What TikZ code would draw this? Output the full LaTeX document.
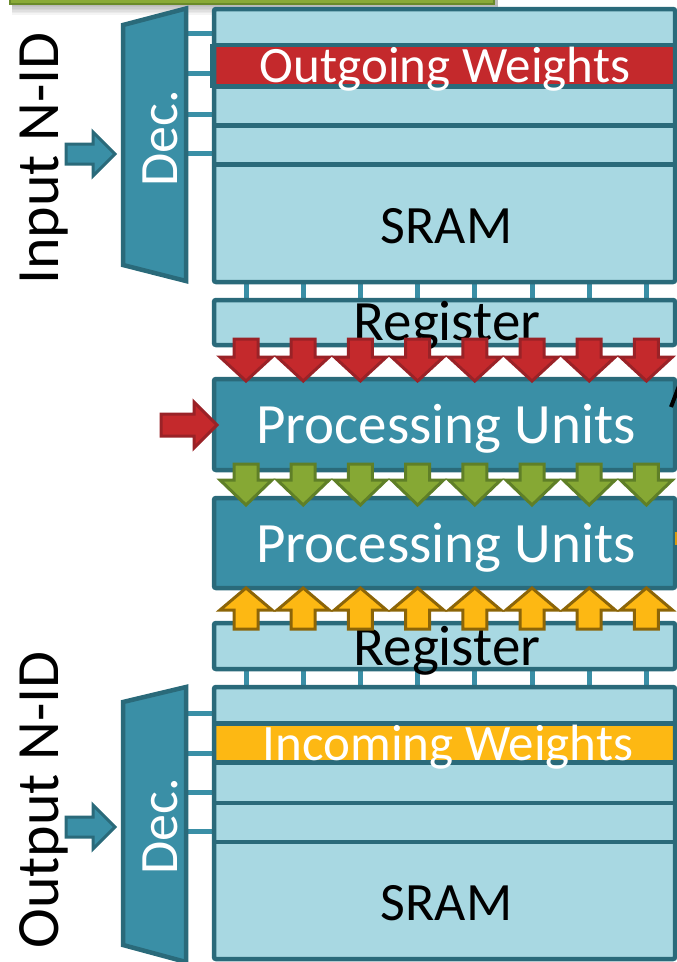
\documentclass[tikz,border=0pt]{standalone}
\usepackage{fontspec}
\setmainfont{Carlito}
\definecolor{cellfill}{HTML}{A8D8E2}
\definecolor{edgecol}{HTML}{2A6A7A}
\definecolor{pucol}{HTML}{3A8FA6}
\definecolor{redw}{HTML}{C4292C}
\definecolor{redwedge}{HTML}{9A2227}
\definecolor{greenw}{HTML}{86A834}
\definecolor{greenwedge}{HTML}{5F7F27}
\definecolor{yelw}{HTML}{FDB813}
\definecolor{yelwedge}{HTML}{8C6508}
\definecolor{barfill}{HTML}{8AAA38}
\definecolor{baredge}{HTML}{6A8A2A}
\tikzset{
  frameline/.style={draw=edgecol, line width=4.5pt, rounded corners=2pt},
  rowline/.style={draw=edgecol, line width=4.5pt},
  stub/.style={draw=pucol, line width=5pt},
  pubox/.style={draw=edgecol, fill=pucol, line width=4.5pt, rounded corners=2pt},
  decshape/.style={draw=edgecol, fill=pucol, line width=4.5pt, line join=miter},
  sidearrow/.style={draw=edgecol, fill=pucol, line width=3pt, line join=miter},
  redarrow/.style={draw=redwedge, fill=redw, line width=3pt, line join=miter},
  greenarrow/.style={draw=greenwedge, fill=greenw, line width=3pt, line join=miter},
  yelarrow/.style={draw=yelwedge, fill=yelw, line width=3pt, line join=miter},
  txt/.style={inner sep=0pt, anchor=base},
  bigtxt/.style={txt, font=\fontsize{57}{57}\selectfont},
  rowtxt/.style={txt, font=\fontsize{51}{51}\selectfont, text=white},
  sramtxt/.style={txt, font=\fontsize{54}{54}\selectfont},
  dectxt/.style={txt, rotate=90, font=\fontsize{54}{54}\selectfont, text=white},
  sidetxt/.style={txt, rotate=90, font=\fontsize{60}{60}\selectfont},
}
\begin{document}
\begin{tikzpicture}[x=1pt, y=-1pt]
\useasboundingbox (0,0) rectangle (677,962);
\clip (0,0) rectangle (677,962);

% green bar with soft shadow
\foreach \i in {1,...,7}
  \fill[black, opacity=0.045] (12,-10) rectangle (498,4+1.5*\i);
\draw[draw=baredge, fill=barfill, line width=2.5pt] (10,-20) rectangle (494,4);

% ---------- upper memory ----------
\foreach \y in {33,73,114,153}
  \draw[stub] (186,\y) -- (214,\y);
\foreach \k in {0,...,7}
  \draw[stub] (246+57.2*\k,282) -- (246+57.2*\k,300);

\fill[cellfill] (214,9) rectangle (675,282);
\fill[redw] (214,46) rectangle (675,86);
\foreach \y in {45,86.5,125.5,164.5}
  \draw[rowline] (214,\y) -- (675,\y);
\draw[frameline] (214,9) rectangle (675,282);
\draw[edgecol, line width=2pt] (211,44) -- (211,88);
\node[rowtxt] (outw) at (445,82) {Outgoing Weights};
\node[sramtxt] (sram1) at (446.5,243) {SRAM};

% decoder 1
\draw[decshape] (123,25) -- (186,8.5) -- (186,281) -- (123,265) -- cycle;
\node[dectxt] (dec1) at (177,138.5) {Dec.};
\draw[sidearrow] (66,144) -- (93,144) -- (93,132) -- (115,154) -- (93,176) -- (93,164) -- (66,164) -- cycle;
\node[sidetxt] (inid) at (58,158.5) {Input N-ID};

% register 1
\draw[frameline, fill=cellfill] (214,300) rectangle (675,345);
\node[bigtxt] (reg1) at (447,340) {Register};

% processing units
\draw[pubox] (214,379) rectangle (675,470);
\node[bigtxt, text=white] (pu1) at (446,443) {Processing Units};
\draw[pubox] (214,498) rectangle (675,588);
\node[bigtxt, text=white] (pu2) at (446,562) {Processing Units};

% edge fragments
\draw[black, line width=4pt] (671,407) -- (679,386);
\fill[yelw!85!black] (674.5,532) rectangle (677,545);

% red arrow into PU
\draw[redarrow] (161,414) -- (194,414) -- (194,402) -- (217,425) -- (194,448) -- (194,436) -- (161,436) -- cycle;

% register 2 and lower memory
\foreach \k in {0,...,7}
  \draw[stub] (246+57.2*\k,669) -- (246+57.2*\k,687);
\draw[frameline, fill=cellfill] (214,623) rectangle (675,669);
\node[bigtxt] (reg2) at (447,665) {Register};

\foreach \y in {713,753,792,831}
  \draw[stub] (186,\y) -- (214,\y);
\fill[cellfill] (214,687) rectangle (675,959);
\fill[yelw] (214,725) rectangle (675,761);
\foreach \y in {723.5,762.5,803,842}
  \draw[rowline] (214,\y) -- (675,\y);
\draw[frameline] (214,687) rectangle (675,959);
\node[rowtxt] (inw) at (448,760) {Incoming Weights};
\node[sramtxt] (sram2) at (446.5,920) {SRAM};

% decoder 2
\draw[decshape] (123,702) -- (186,687) -- (186,962) -- (123,945) -- cycle;
\node[dectxt] (dec2) at (177,826) {Dec.};
\draw[sidearrow] (66,817) -- (93,817) -- (93,805) -- (115,827) -- (93,849) -- (93,837) -- (66,837) -- cycle;
\node[sidetxt] (outid) at (58,800) {Output N-ID};

% data-flow arrows between the stages
\foreach \k in {0,...,7} {
  \pgfmathsetmacro{\cx}{246+57.2*\k}
  \draw[redarrow] (\cx-12,339) -- (\cx+12,339) -- (\cx+12,357) -- (\cx+26,357) -- (\cx,381) -- (\cx-26,357) -- (\cx-12,357) -- cycle;
  \draw[greenarrow] (\cx-12,464) -- (\cx+12,464) -- (\cx+12,480) -- (\cx+26,480) -- (\cx,505) -- (\cx-26,480) -- (\cx-12,480) -- cycle;
  \draw[yelarrow] (\cx-12,629) -- (\cx+12,629) -- (\cx+12,610) -- (\cx+26,610) -- (\cx,588) -- (\cx-26,610) -- (\cx-12,610) -- cycle;
}
\end{tikzpicture}
\end{document}
